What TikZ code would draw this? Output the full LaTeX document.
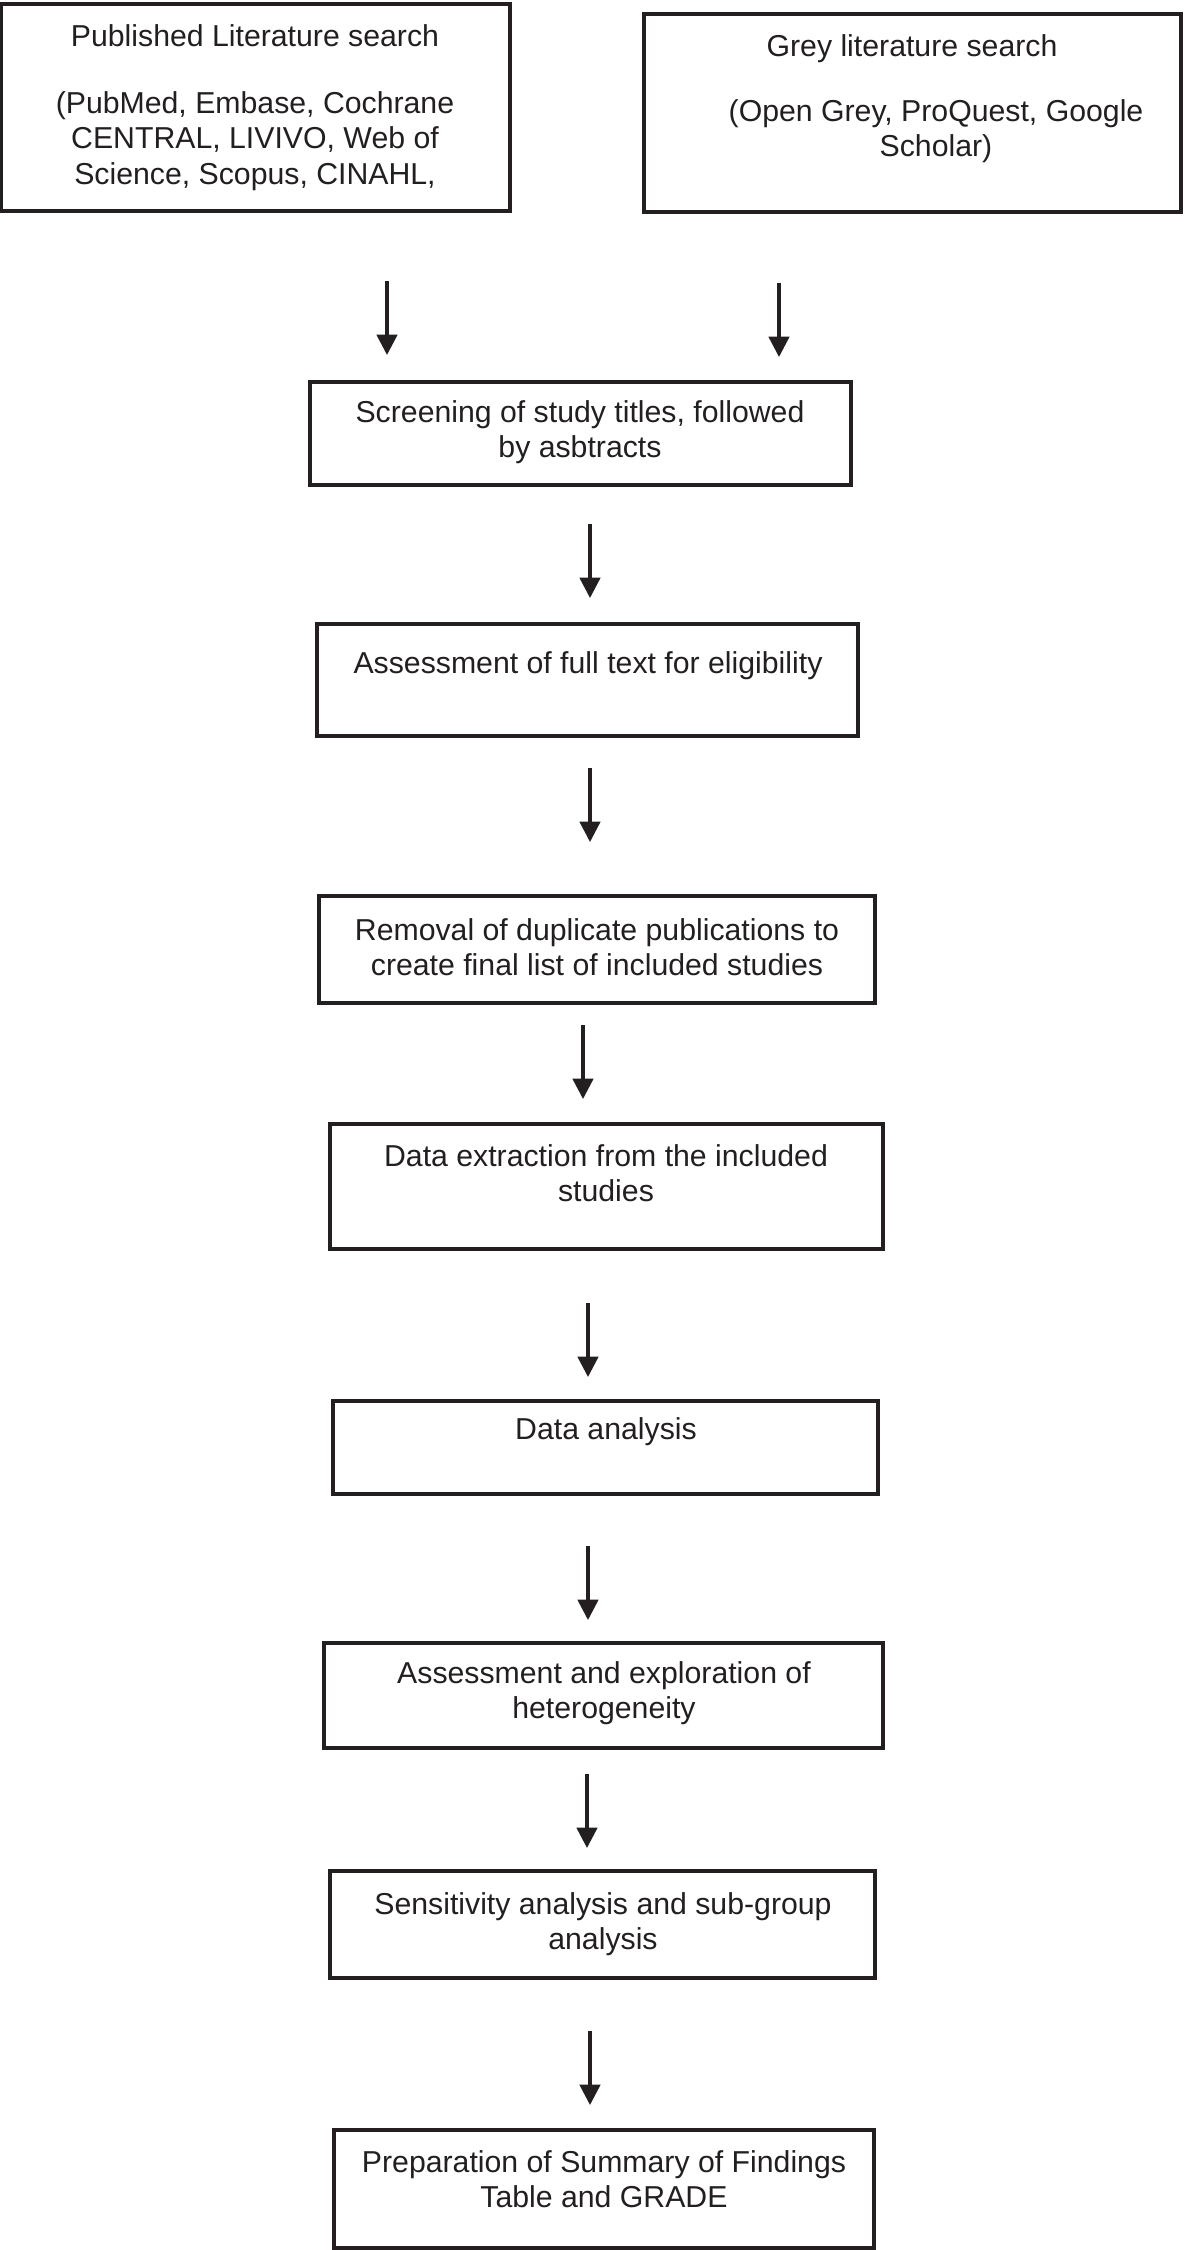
\documentclass[tikz,border=0pt]{standalone}
\usepackage{fontspec}
\setmainfont{Liberation Sans}
\usetikzlibrary{arrows.meta}
\definecolor{ink}{HTML}{231F20}
\begin{document}
\begin{tikzpicture}[x=0.01cm,y=-0.01cm,
  box/.style={draw=ink,line width=0.95pt,rectangle,inner sep=0pt},
  txt/.style={text=ink,font=\fontsize{8.6}{10}\selectfont,align=center,inner sep=0pt},
  arr/.style={draw=ink,line width=0.95pt,-{Triangle[width=5.8pt,length=5.8pt]}}]
\useasboundingbox[fill=white] (0,0) rectangle (1184,2250);

% boxes
\node[box,minimum width=5.09cm,minimum height=2.07cm] (b1) at (255.5,107.5) {};
\node[box,minimum width=5.37cm,minimum height=1.98cm] (b2) at (912.5,113) {};
\node[box,minimum width=5.41cm,minimum height=1.03cm] (b3) at (580.5,433.5) {};
\node[box,minimum width=5.41cm,minimum height=1.12cm] (b4) at (587.5,680) {};
\node[box,minimum width=5.56cm,minimum height=1.07cm] (b5) at (597,949.5) {};
\node[box,minimum width=5.53cm,minimum height=1.25cm] (b6) at (606.5,1186.5) {};
\node[box,minimum width=5.45cm,minimum height=0.93cm] (b7) at (605.5,1447.5) {};
\node[box,minimum width=5.59cm,minimum height=1.05cm] (b8) at (603.5,1695.5) {};
\node[box,minimum width=5.45cm,minimum height=1.07cm] (b9) at (602.5,1924.5) {};
\node[box,minimum width=5.40cm,minimum height=1.18cm] (b10) at (604,2189) {};

% texts
\node[txt] (t1a) at (255,36) {Published Literature search};
\node[txt] (t1b) at (255,141) {(PubMed, Embase, Cochrane\\CENTRAL, LIVIVO, Web of\\Science, Scopus, CINAHL,};
\node[txt] (t2a) at (912,49) {Grey literature search};
\node[txt] (t2b) at (936,131) {(Open Grey, ProQuest, Google\\Scholar)};
\node[txt] (t3) at (580,432) {Screening of study titles, followed\\by asbtracts};
\node[txt] (t4) at (588,666) {Assessment of full text for eligibility};
\node[txt] (t5) at (597,947) {Removal of duplicate publications to\\create final list of included studies};
\node[txt] (t6) at (606,1173) {Data extraction from the included\\studies};
\node[txt] (t7) at (606,1432) {Data analysis};
\node[txt] (t8) at (604,1693) {Assessment and exploration of\\heterogeneity};
\node[txt] (t9) at (603,1924) {Sensitivity analysis and sub-group\\analysis};
\node[txt] (t10) at (604,2179) {Preparation of Summary of Findings\\Table and GRADE};

% arrow end points
\coordinate (a1s) at (387,281);  \coordinate (a1e) at (387,355);
\coordinate (a2s) at (779,283);  \coordinate (a2e) at (779,357);
\coordinate (a3s) at (590,524);  \coordinate (a3e) at (590,598);
\coordinate (a4s) at (590,768);  \coordinate (a4e) at (590,842);
\coordinate (a5s) at (583,1025); \coordinate (a5e) at (583,1099);
\coordinate (a6s) at (588,1303); \coordinate (a6e) at (588,1377);
\coordinate (a7s) at (588,1546); \coordinate (a7e) at (588,1620);
\coordinate (a8s) at (587,1774); \coordinate (a8e) at (587,1848);
\coordinate (a9s) at (590,2031); \coordinate (a9e) at (590,2105);

\foreach \i in {1,...,9} {\draw[arr] (a\i s) -- (a\i e);}
\end{tikzpicture}
\end{document}
